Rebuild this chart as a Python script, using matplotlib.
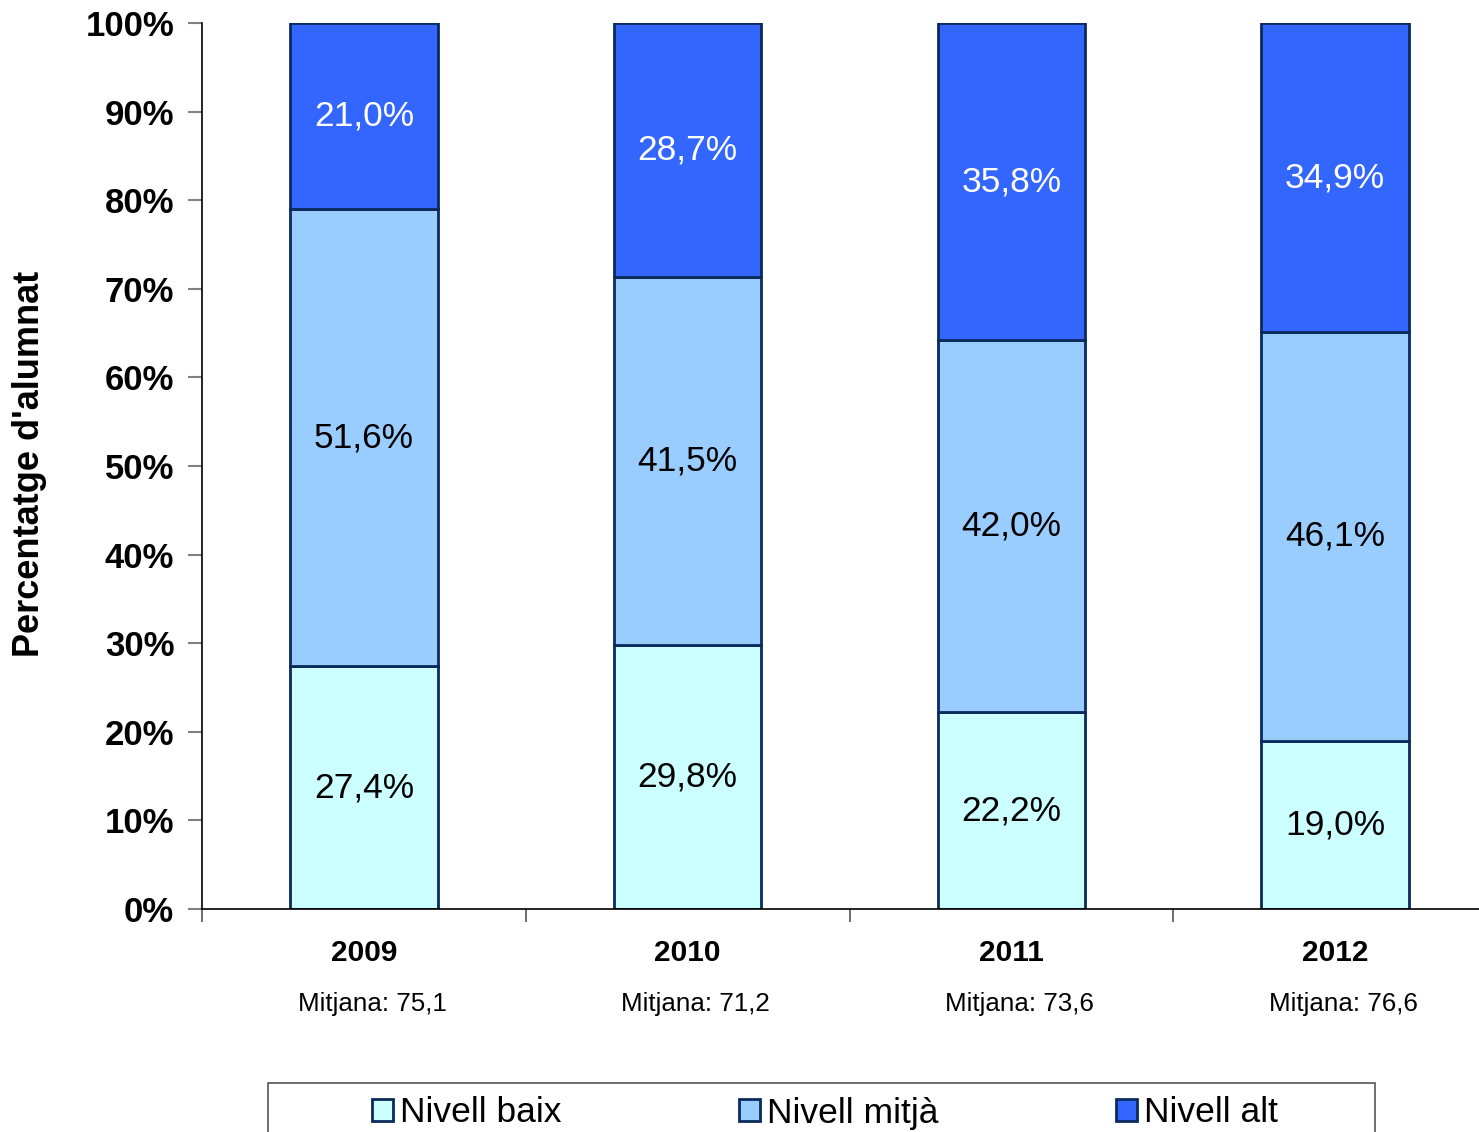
import matplotlib
matplotlib.use("Agg")
from matplotlib import pyplot as plt
from matplotlib.patches import Rectangle
from matplotlib.ticker import FixedLocator, NullFormatter

plt.rcParams['font.family'] = ['Liberation Sans', 'DejaVu Sans']

years = ['2009', '2010', '2011', '2012']
mitjanes = ['Mitjana: 75,1', 'Mitjana: 71,2', 'Mitjana: 73,6', 'Mitjana: 76,6']
nivell_baix = [27.4, 29.8, 22.2, 19.0]
nivell_mitja = [51.6, 41.5, 42.0, 46.1]
nivell_alt = [21.0, 28.7, 35.8, 34.9]
series_names = ['Nivell baix', 'Nivell mitjà', 'Nivell alt']
COLORS = ['#CCFFFF', '#99CCFF', '#3366FF']
EDGE = '#0b2a5c'

W, H = 1479, 1132
fig = plt.figure(figsize=(W / 100, H / 100), dpi=100)
ax = fig.add_axes([202 / W, (H - 909) / H, 1295 / W, 886 / H])

x = list(range(len(years)))
bottoms = [0.0] * len(years)
for name, values, color in zip(series_names, [nivell_baix, nivell_mitja, nivell_alt], COLORS):
    ax.bar(x, values, width=0.455, bottom=bottoms, color=color,
           edgecolor=EDGE, linewidth=2, label=name)
    txt_color = 'white' if color == COLORS[2] else 'black'
    for xi, b, v in zip(x, bottoms, values):
        ax.text(xi, b + v / 2, f"{v:.1f}%".replace('.', ','), ha='center', va='center',
                fontsize=25.5, color=txt_color)
    bottoms = [b + v for b, v in zip(bottoms, values)]

ax.set_xlim(-0.5, 3.5)
ax.set_ylim(0, 100)
ax.set_yticks(range(0, 101, 10))
ax.set_yticklabels([f"{t}%" for t in range(0, 101, 10)], fontsize=25, fontweight='bold')
ax.tick_params(axis='y', length=10, width=1.5, color='#808080', pad=10)
ax.xaxis.set_major_locator(FixedLocator([-0.5, 0.5, 1.5, 2.5]))
ax.xaxis.set_major_formatter(NullFormatter())
ax.tick_params(axis='x', length=9, width=1.2, color='#555555')
for s in ['top', 'right']:
    ax.spines[s].set_visible(False)
ax.spines['left'].set_linewidth(1.2)
ax.spines['bottom'].set_linewidth(1.2)

for xi, yr, mj in zip(x, years, mitjanes):
    ax.text(xi, -5, yr, ha='center', va='center', fontsize=21.5, fontweight='bold',
            transform=ax.transData, clip_on=False)
    ax.text(xi + 0.025, -10.7, mj, ha='center', va='center', fontsize=18.7,
            transform=ax.transData, clip_on=False)

fig.text(30 / W, 1 - 464 / H, "Percentatge d'alumnat", rotation=90, ha='center', va='center',
         fontsize=26, fontweight='bold')

fig.patches.append(Rectangle((268 / W, -0.02), (1375 - 268) / W, 0.02 + 49 / H,
                             transform=fig.transFigure, facecolor='white',
                             edgecolor='#555555', linewidth=1.2))
handles, labels = ax.get_legend_handles_labels()
fig.legend(handles, labels, loc='center', bbox_to_anchor=(825 / W, 19 / H), ncol=3,
           frameon=False, fontsize=25.5, handlelength=0.6, handleheight=0.6,
           handletextpad=0.2, columnspacing=5.0, borderpad=0)

fig.savefig('out.png', dpi=100)
